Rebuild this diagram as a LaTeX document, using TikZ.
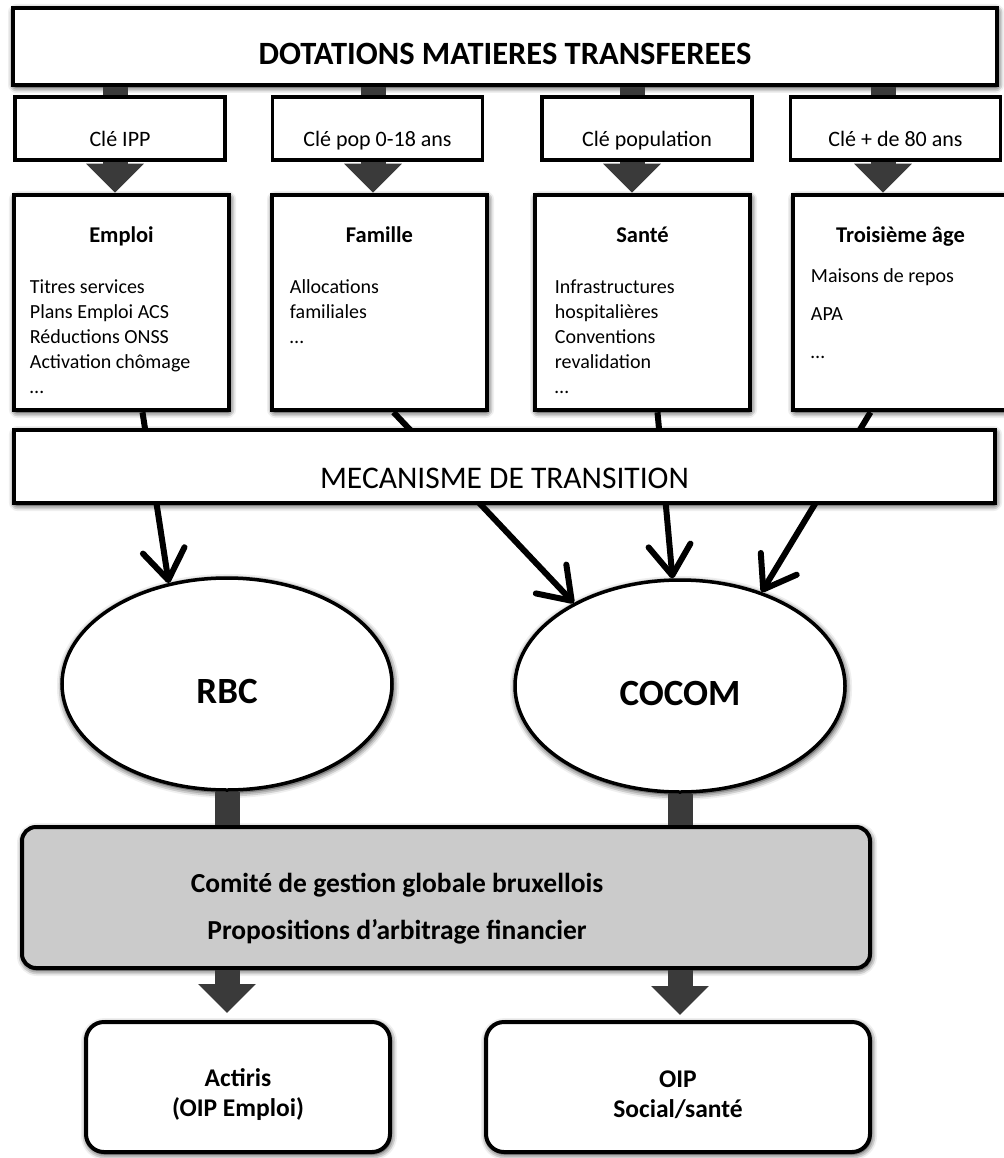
\documentclass[tikz,border=0pt]{standalone}
\usepackage{fontspec}
\setmainfont{Carlito}
\usetikzlibrary{arrows.meta}
\usetikzlibrary{calc}
\usetikzlibrary{shapes.geometric}
\usetikzlibrary{shadows.blur}
\definecolor{fatgray}{HTML}{3A3A3A}
\definecolor{boxgray}{HTML}{CBCBCB}

\begin{document}
\begin{tikzpicture}[x=1pt, y=-1pt,
        glow/.style={blur shadow={shadow xshift=1pt, shadow yshift=-2pt, shadow blur radius=6pt,
            shadow blur extra rounding=2pt, shadow opacity=100}},
        bar/.style={draw, line width=4pt, fill=white, glow, inner sep=0pt},
        keybox/.style={draw, line width=3.5pt, fill=white, minimum width=210pt, minimum height=63pt,
            font=\fontsize{22}{26}\selectfont, text height=37pt, text depth=0pt},
        matiere/.style={draw, line width=4.5pt, fill=white, glow, minimum width=215pt, minimum height=215pt},
        mattitle/.style={anchor=base, inner sep=0pt, font=\bfseries\fontsize{22.5}{26}\selectfont},
        matlist/.style={anchor=north west, inner sep=0pt, align=left, font=\fontsize{20}{25}\selectfont},
        budget/.style={ellipse, draw, line width=3.5pt, fill=white, glow, minimum width=330pt, minimum height=212pt,
            text height=39pt, text depth=0pt, font=\bfseries\fontsize{37}{42}\selectfont},
        oip/.style={draw, line width=4pt, fill=white, glow, rounded corners=18pt, minimum height=130pt,
            align=center, font=\bfseries\fontsize{25.5}{30}\selectfont},
        stub/.style={fatgray, line width=25pt},
        fatarrow/.style={fatgray, line width=25pt, -{Triangle[length=29pt, width=56pt]}},
        thinarrow/.style={line width=6pt, -{Straight Barb[length=30pt, width=42pt, round]}}
    ]
        \useasboundingbox (0,0) rectangle (1003,1158);

        % dotations et cles
        \node[bar, minimum width=984pt, minimum height=77pt, text height=37pt, text depth=0pt,
            font=\bfseries\fontsize{32.5}{38}\selectfont] (dot) at (505,46.5) {DOTATIONS MATIERES TRANSFEREES};
        \node[keybox] (ipp) at (120,128.5) {Clé IPP};
        \node[keybox] (pop) at (377.5,128.5) {Clé pop 0-18 ans};
        \node[keybox] (popu) at (647,128.5) {Clé population};
        \node[keybox] (age) at (895.5,128.5) {Clé + de 80 ans};

        % matieres
        \node[matiere] (emploi) at (121.5,302.5) {};
        \node[matiere] (famille) at (379.5,302.5) {};
        \node[matiere] (sante) at (642.5,302.5) {};
        \node[matiere] (troisieme) at (900.5,302.5) {};

        \foreach \k/\c/\ax in {ipp/emploi/115, pop/famille/373, popu/sante/632, age/troisieme/883} {
            \draw[stub] (dot.south -| \ax,0) -- (\k.north -| \ax,0);
            \draw[fatarrow] (\k.south -| \ax,0) -- (\c.north -| \ax,0);
        }

        \node[mattitle] (emploit) at ([yshift=-50pt]emploi.north) {Emploi};
        \node[mattitle] (famillet) at ([yshift=-50pt]famille.north) {Famille};
        \node[mattitle] (santet) at ([yshift=-50pt]sante.north) {Santé};
        \node[mattitle] (troisiemet) at ([yshift=-50pt]troisieme.north) {Troisième âge};
        \node[matlist] (emploil) at ([xshift=18pt, yshift=-87pt]emploi.north west)
            {Titres services\\Plans Emploi ACS\\Réductions ONSS\\Activation chômage\\…};
        \node[matlist] (famillel) at ([xshift=20pt, yshift=-87pt]famille.north west)
            {Allocations\\familiales\\…};
        \node[matlist] (santel) at ([xshift=22pt, yshift=-87pt]sante.north west)
            {Infrastructures\\hospitalières\\Conventions\\revalidation\\…};
        \node[matlist] (troisiemel) at ([xshift=20pt, yshift=-76pt]troisieme.north west)
            {Maisons de repos\\[13pt]APA\\[13pt]…};

        % entites
        \node[budget] (rbc) at (227,684) {RBC};
        \node[budget] (cocom) at (680,686) {COCOM};

        \foreach \c/\dx/\e in {emploi/21/rbc.120, famille/14/cocom.142, sante/15/cocom.94, troisieme/-30/cocom.49}
            \draw[thinarrow] ([xshift=\dx pt]\c.south) -- (\e);

        \node[bar, minimum width=981pt, minimum height=73pt, text height=43pt, text depth=0pt,
            font=\fontsize{31.5}{36}\selectfont] (transition) at (504.5,466.5) {MECANISME DE TRANSITION};

        % comite et OIP
        \node[draw, line width=4pt, fill=boxgray, glow, rounded corners=14pt,
            minimum width=848pt, minimum height=141pt] (comite) at (446,897.5) {};
        \node[align=center, font=\bfseries\fontsize{27.5}{47}\selectfont] (comitetxt) at (397,909)
            {Comité de gestion globale bruxellois\\Propositions d’arbitrage financier};

        \node[oip, minimum width=304pt] (actiris) at (238,1087) {\rule{0pt}{33pt}Actiris\\(OIP Emploi)};
        \node[oip, minimum width=384pt] (social) at (678,1087) {\rule{0pt}{33pt}OIP\\Social/santé};

        \draw[stub] (rbc.south) -- (rbc.south |- comite.north);
        \draw[stub] (cocom.south) -- (cocom.south |- comite.north);
        \draw[fatarrow] (rbc.south |- comite.south) -- ([yshift=7pt]rbc.south |- actiris.north);
        \draw[fatarrow] (cocom.south |- comite.south) -- ([yshift=5pt]cocom.south |- social.north);
    \end{tikzpicture}
\end{document}
